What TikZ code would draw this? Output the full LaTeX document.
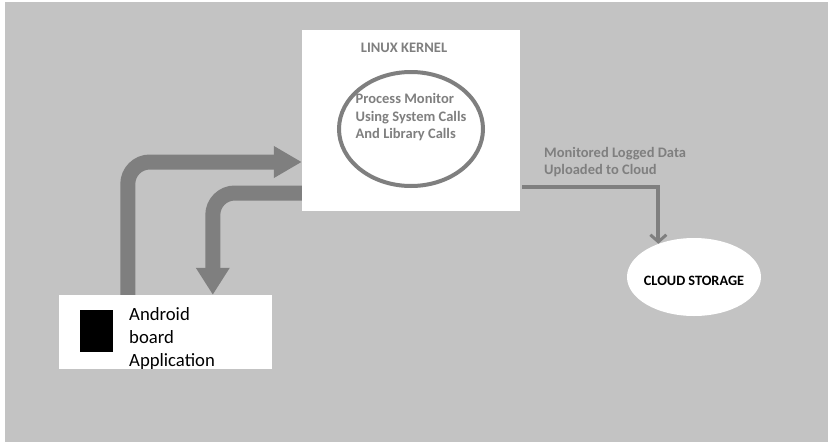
\documentclass[tikz,border=0pt]{standalone}
\usepackage{fontspec}
\setmainfont{Carlito}
\usetikzlibrary{arrows.meta,shapes.geometric}
\definecolor{bggray}{HTML}{C3C3C3}
\definecolor{linegray}{HTML}{7F7F7F}
\tikzset{
  whitebox/.style={rectangle,fill=white,inner sep=0pt},
  graytext/.style={text=linegray,font=\fontsize{14.5}{17.5}\selectfont\bfseries,align=left,inner sep=0pt},
  fatarrow/.style={draw=linegray,line width=15pt,rounded corners=22pt},
  thinarrow/.style={draw=linegray,line width=4pt,-{Straight Barb[length=7pt,width=16pt,line width=3pt]}}
}
\begin{document}
\begin{tikzpicture}[x=1pt,y=-1pt]
\useasboundingbox (0,0) rectangle (828,442);
\fill[bggray] (5,2) rectangle (828,442);

\node[whitebox,minimum width=218pt,minimum height=181pt] (kernel) at (411,120.5) {};
\node[graytext] (kerneltxt) at (404,48) {LINUX KERNEL};
\node[ellipse,draw=linegray,line width=4pt,minimum width=144pt,minimum height=114pt] (monitor) at (411,129) {};
\node[graytext] (monitortxt) at ([yshift=11.5pt]monitor.center) {Process Monitor\\Using System Calls\\And Library Calls};

\node[whitebox,minimum width=213pt,minimum height=74pt] (android) at (165.5,332) {};
\node[rectangle,fill=black,minimum width=33pt,minimum height=42pt,inner sep=0pt] (chip) at (96.5,331) {};
\node[anchor=west,align=left,inner sep=0pt,font=\fontsize{18.7}{23}\selectfont] (androidtxt) at (129,339) {Android\\board\\Application};

\node[ellipse,fill=white,minimum width=134pt,minimum height=78pt,inner sep=0pt] (cloud) at (694,277) {};
\node[font=\fontsize{14.3}{17}\selectfont\bfseries,inner sep=0pt] (cloudtxt) at (694,281) {CLOUD STORAGE};

\node[graytext,anchor=west] (uploadtxt) at (544,162) {Monitored Logged Data\\Uploaded to Cloud};

% android <-> kernel
\draw[fatarrow,-{Triangle[length=28pt,width=30pt]}] ([xshift=69pt]android.north west) |- ([yshift=-41.5pt]kernel.west);
\draw[fatarrow,-{Triangle[length=27pt,width=32pt]}] ([yshift=-72.5pt]kernel.west) -| ([xshift=154pt]android.north west);

% kernel -> cloud
\draw[thinarrow] ([yshift=-66.5pt,xshift=2pt]kernel.east) -| (cloud.137);
\end{tikzpicture}
\end{document}
